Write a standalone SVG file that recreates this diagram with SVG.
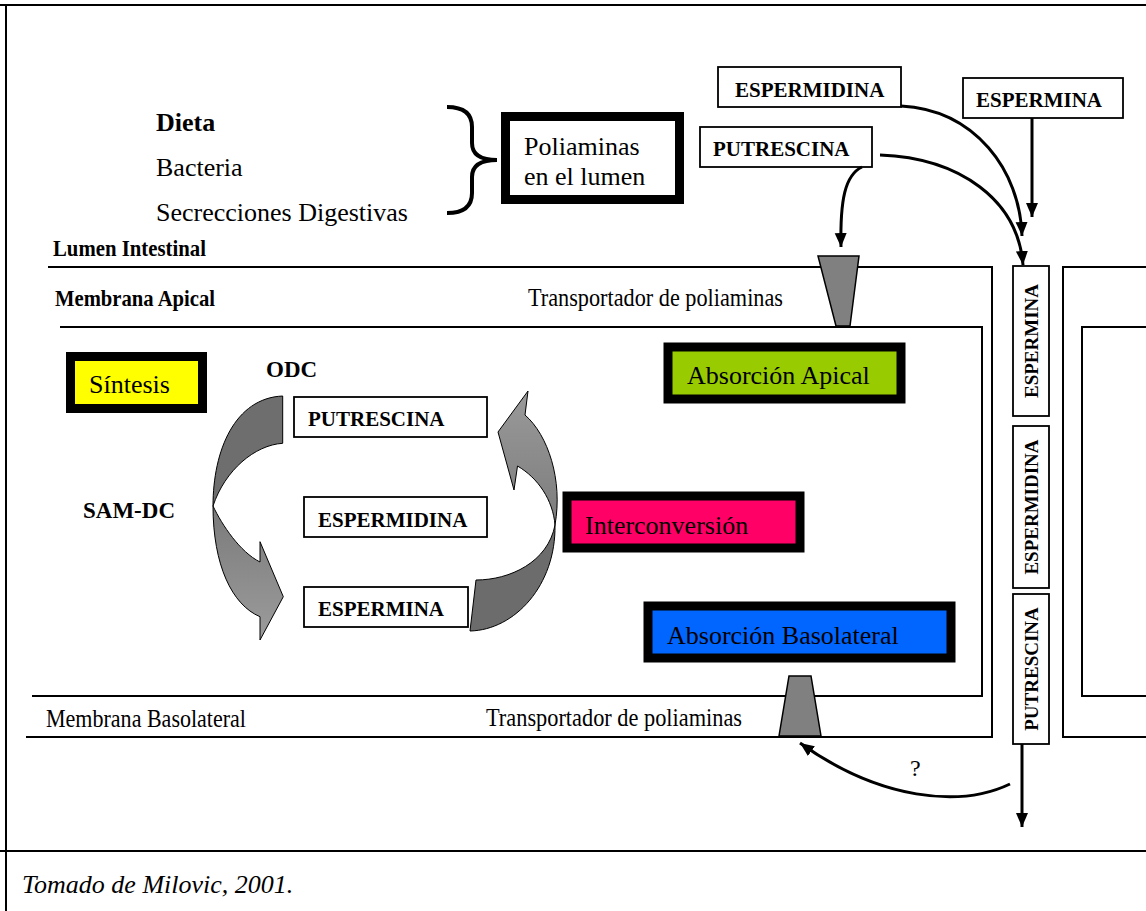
<svg xmlns="http://www.w3.org/2000/svg" width="1146" height="911" viewBox="0 0 1146 911">
<defs>
<style>
.t{font-family:"Liberation Serif","Times New Roman",serif;fill:#000}
.b{font-weight:bold}
.frame{stroke:#000;stroke-width:2;fill:none}
.mem{stroke:#000;stroke-width:2;fill:none}
.box{fill:#fff;stroke:#000;stroke-width:1.8}
.conn{stroke:#000;stroke-width:3;fill:none}
.tr{fill:#808080;stroke:#000;stroke-width:1.5}
.ca{stroke:#000;stroke-width:1}
</style>
<marker id="ah" markerUnits="userSpaceOnUse" markerWidth="16" markerHeight="14" refX="14" refY="6.5" orient="auto">
<path d="M0,0.5 L14,6.5 L0,12.5 Z" fill="#000"/>
</marker>
<linearGradient id="gl" x1="0" y1="0" x2="0" y2="1">
<stop offset="0" stop-color="#7a7a7a"/><stop offset="1" stop-color="#9c9c9c"/>
</linearGradient>
<linearGradient id="gr" x1="0" y1="1" x2="0" y2="0">
<stop offset="0" stop-color="#7c7c7c"/><stop offset="1" stop-color="#9a9a9a"/>
</linearGradient>
</defs>
<rect width="1146" height="911" fill="#fff"/>

<g id="frame">
<line class="frame" x1="0" y1="5" x2="1146" y2="5"/>
<line class="frame" x1="6" y1="5" x2="6" y2="911"/>
<line class="frame" x1="0" y1="851" x2="1146" y2="851"/>
<text class="t" x="22" y="893" font-size="26" font-style="italic">Tomado de Milovic, 2001.</text>
</g>

<g id="cell">
<path class="mem" d="M48,267 L992,267 L992,737 L26,737"/>
<path class="mem" d="M60,327 L982,327 L982,696 L32,696"/>
<path class="mem" d="M1146,267 L1063,267 L1063,737 L1146,737"/>
<path class="mem" d="M1146,327 L1082,327 L1082,696 L1146,696"/>
<text class="t b" x="53" y="256" font-size="23" textLength="153" lengthAdjust="spacingAndGlyphs">Lumen Intestinal</text>
<text class="t b" x="55" y="306" font-size="23" textLength="160" lengthAdjust="spacingAndGlyphs">Membrana Apical</text>
<text class="t" x="528" y="306" font-size="25" textLength="255" lengthAdjust="spacingAndGlyphs">Transportador de poliaminas</text>
<text class="t" x="46" y="727" font-size="25" textLength="200" lengthAdjust="spacingAndGlyphs">Membrana Basolateral</text>
<text class="t" x="486" y="726" font-size="25" textLength="256" lengthAdjust="spacingAndGlyphs">Transportador de poliaminas</text>
</g>

<g id="transporter-apical">
<polygon class="tr" points="818,256 859,256 850,326 836,326"/>
</g>
<g id="transporter-basolateral">
<polygon class="tr" points="789,676 811,676 821,736 779,736"/>
</g>

<g id="sources">
<text class="t b" x="156" y="131" font-size="26">Dieta</text>
<text class="t" x="156" y="176" font-size="26">Bacteria</text>
<text class="t" x="156" y="221" font-size="26">Secrecciones Digestivas</text>
<path d="M447,107 Q472,107 472,127 L472,143 Q472,160 497,160 Q472,160 472,177 L472,193 Q472,213 447,213" fill="none" stroke="#000" stroke-width="4"/>
</g>

<g id="poliaminas-lumen">
<rect x="505.5" y="116.5" width="174" height="83" fill="#fff" stroke="#000" stroke-width="9"/>
<text class="t" x="524" y="155" font-size="26">Poliaminas</text>
<text class="t" x="524" y="185" font-size="26">en el lumen</text>
</g>

<g id="top-espermidina">
<rect class="box" x="718" y="67" width="183" height="40"/>
<text class="t b" x="735" y="97" font-size="21">ESPERMIDINA</text>
</g>
<g id="top-espermina">
<rect class="box" x="963" y="78" width="160" height="40"/>
<text class="t b" x="976" y="107" font-size="21">ESPERMINA</text>
</g>
<g id="top-putrescina">
<rect class="box" x="700" y="127" width="172" height="40"/>
<text class="t b" x="713" y="156" font-size="21">PUTRESCINA</text>
</g>

<g id="sintesis">
<rect x="70.5" y="356.5" width="132" height="52" fill="#ffff00" stroke="#000" stroke-width="9"/>
<text class="t" x="89" y="393" font-size="26">Síntesis</text>
</g>
<g id="absorcion-apical">
<rect x="668" y="347" width="233" height="52" fill="#99cc00" stroke="#000" stroke-width="9"/>
<text class="t" x="687" y="384" font-size="26">Absorción Apical</text>
</g>
<g id="interconversion">
<rect x="567" y="496" width="233" height="52" fill="#ff0066" stroke="#000" stroke-width="9"/>
<text class="t" x="585" y="534" font-size="26">Interconversión</text>
</g>
<g id="absorcion-basolateral">
<rect x="648" y="606" width="303" height="52" fill="#0066ff" stroke="#000" stroke-width="9"/>
<text class="t" x="667" y="644" font-size="26">Absorción Basolateral</text>
</g>

<g id="enzymes">
<text class="t b" x="266" y="377" font-size="23">ODC</text>
<text class="t b" x="83" y="518" font-size="23">SAM-DC</text>
</g>

<g id="cycle-putrescina">
<rect class="box" x="294" y="397" width="193" height="40"/>
<text class="t b" x="308" y="426" font-size="21">PUTRESCINA</text>
</g>
<g id="cycle-espermidina">
<rect class="box" x="304" y="497" width="183" height="40"/>
<text class="t b" x="318" y="527" font-size="21">ESPERMIDINA</text>
</g>
<g id="cycle-espermina">
<rect class="box" x="304" y="587" width="164" height="40"/>
<text class="t b" x="318" y="616" font-size="21">ESPERMINA</text>
</g>

<g id="col-espermina">
<rect class="box" x="1013" y="266" width="36" height="150"/>
<text class="t b" font-size="19" text-anchor="middle" transform="translate(1038,341) rotate(-90)">ESPERMINA</text>
</g>
<g id="col-espermidina">
<rect class="box" x="1013" y="426" width="36" height="162"/>
<text class="t b" font-size="19" text-anchor="middle" transform="translate(1038,507) rotate(-90)">ESPERMIDINA</text>
</g>
<g id="col-putrescina">
<rect class="box" x="1013" y="594" width="36" height="150"/>
<text class="t b" font-size="19" text-anchor="middle" transform="translate(1038,669) rotate(-90)">PUTRESCINA</text>
</g>

<g id="connectors">
<path class="conn" d="M901,106 C975,110 1020,170 1022,236" marker-end="url(#ah)"/>
<path class="conn" d="M880,155 C960,158 1018,200 1023,265" marker-end="url(#ah)"/>
<path class="conn" d="M1032,118 L1032,217" marker-end="url(#ah)"/>
<path class="conn" d="M862,167 C845,175 840,200 841,247" marker-end="url(#ah)"/>
<path class="conn" d="M1022,744 L1022,827" marker-end="url(#ah)"/>
<path class="conn" d="M1010,784 C960,808 880,800 800,743" marker-end="url(#ah)"/>
<text class="t" x="910" y="776" font-size="24">?</text>
<g id="cycle-arrows">
<path class="ca" fill="url(#gl)" d="M213,506 C222,525 240,552 260,562 L260,541.7 L283.3,596.7 L260,640 L260,616.7 C232,605 213,565 213,506 Z"/>
<path class="ca" fill="#6e6e6e" d="M282.7,396 L282.7,443.3 C255,445 225,470 213,506 C213,450 235,398 282.7,396 Z"/>
<path class="ca" fill="#6c6c6c" d="M476,580 C510,580 548,562 555,525 C556,585 515,630 470,631 Z"/>
<path class="ca" fill="url(#gr)" d="M555,525 C553,500 538,478 517.5,466 L514,490 L498,432 L528,391 L525,415 C548,435 563,480 555,525 Z"/>
</g>
</g>
</svg>
